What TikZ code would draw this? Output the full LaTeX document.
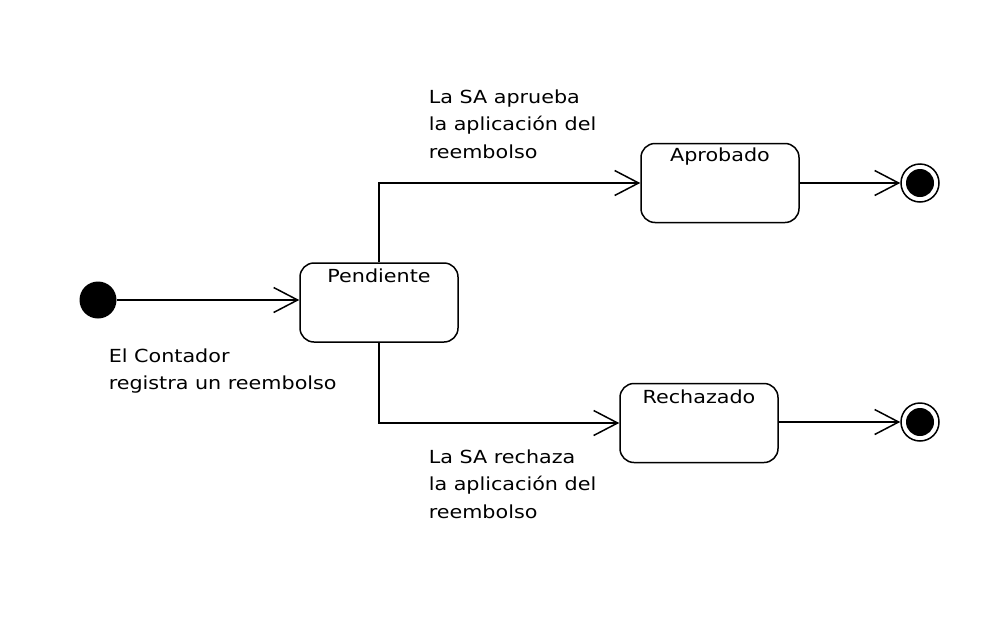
\documentclass[tikz,border=0pt]{standalone}
\usepackage{fontspec}
\setmainfont{DejaVu Sans}[FakeStretch=1.15]
\usetikzlibrary{arrows.meta}

\begin{document}
\begin{tikzpicture}[
    x=1pt, y=-1pt,
    >={Straight Barb[length=24pt,width=25pt]},
    every path/.style = {line width=1.5pt},
    ini/.style   = {circle, fill=black, minimum size=37pt, inner sep=0pt},
    fin/.style   = {circle, draw, minimum size=38pt, inner sep=0pt,
                     path picture={\fill (path picture bounding box.center) circle (14pt);}},
    state/.style = {rectangle, rounded corners=14pt, draw, fill=white,
                     minimum width=158pt, minimum height=79pt, inner sep=0pt},
    sname/.style = {font=\fontsize{18}{20}\selectfont, inner sep=0pt},
    lbl/.style   = {font=\fontsize{18}{27.5}\selectfont, align=left,
                     anchor=north west, inner sep=0pt},
  ]
  \useasboundingbox (0,0) rectangle (988,632);
  % initial and final pseudo-states
  \node[ini] (start) at (98,300) {};
  \node[fin] (endA)  at (920,183) {};
  \node[fin] (endR)  at (920,422) {};
  % states
  \node[state] (pend)  at (379,302.5) {};
  \node[state] (aprob) at (720,183)   {};
  \node[state] (rech)  at (699,423)   {};
  \node[sname] at ([yshift=-14pt]pend.north)  {Pendiente};
  \node[sname] at ([yshift=-14pt]aprob.north) {Aprobado};
  \node[sname] at ([yshift=-14pt]rech.north)  {Rechazado};
  % transitions
  \draw[->] (start) -- (start -| pend.west);
  \draw[->] (pend.north) |- (aprob.west);
  \draw[->] (pend.south) |- (rech.west);
  \draw[->] (aprob.east |- endA) -- (endA);
  \draw[->] (rech.east |- endR) -- (endR);
  % labels
  \node[lbl] at (108,348) {El Contador\\registra un reembolso};
  \node[lbl] at (428,89)  {La SA aprueba\\la aplicación del\\reembolso};
  \node[lbl] at (428,449) {La SA rechaza\\la aplicación del\\reembolso};
\end{tikzpicture}
\end{document}
